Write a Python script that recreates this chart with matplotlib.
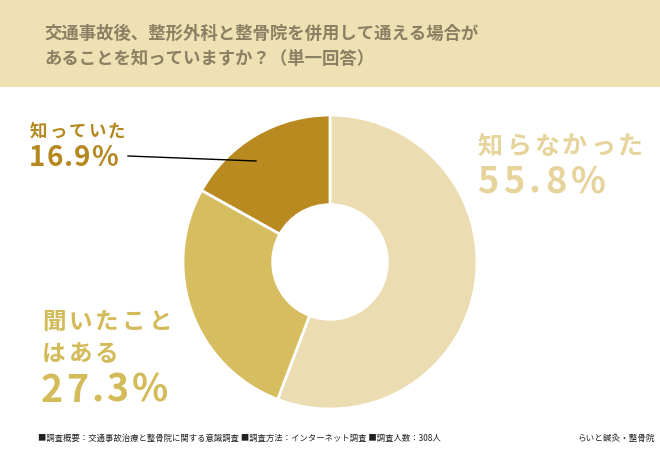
import matplotlib.pyplot as plt
from matplotlib.patches import Rectangle

plt.rcParams['font.family'] = ['Noto Sans CJK JP', 'DejaVu Sans']

labels = ["知らなかった", "聞いたこと", "はある", "知っていた"]
values = [55.8, 27.3, 16.9]
colors = ["#ecdcb1", "#d6bd60", "#b88a1f"]
text_colors = ["#e6d49c", "#d4bb5a", "#b4871f"]

title = "交通事故後、整形外科と整骨院を併用して通える場合が\nあることを知っていますか？（単一回答）"
footer = "■調査概要：交通事故治療と整骨院に関する意識調査 ■調査方法：インターネット調査 ■調査人数：308人"
credit = "らいと鍼灸・整骨院"

W, H = 660, 450
fig = plt.figure(figsize=(6.6, 4.5), dpi=100)
fig.patch.set_facecolor("white")
renderer = fig.canvas.get_renderer()


def spaced_text(x, y, s, gap, **kw):
    # draw text one char at a time so the letters can be spread out
    for ch in s:
        t = fig.text(x / W, 1 - y / H, ch, va="center", ha="left", **kw)
        x += t.get_window_extent(renderer).width + gap


# title banner
fig.patches.append(Rectangle((0, 1 - 87 / H), 1, 87 / H, transform=fig.transFigure,
                             facecolor="#efe1b4", edgecolor="none", zorder=0))
fig.text(44 / W, 1 - 46 / H, title, fontsize=12.5, fontweight="bold", color="#8b8063",
         va="center", ha="left", linespacing=1.5)

# donut
r = 147
cx, cy = 330, 262
ax = fig.add_axes([(cx - r) / W, 1 - (cy + r) / H, 2 * r / W, 2 * r / H])
ax.pie(values, colors=colors, startangle=90, counterclock=False,
       wedgeprops=dict(width=0.61, edgecolor="white", linewidth=2))
ax.set_xlim(-1, 1)
ax.set_ylim(-1, 1)
ax.set_aspect("equal")
ax.axis("off")

# labels
spaced_text(478, 147, labels[0], 3, fontsize=18, fontweight="bold", color=text_colors[0])
spaced_text(477, 182, f"{values[0]}%", 4.5, fontsize=26, fontweight="bold", color=text_colors[0])

spaced_text(42, 322, labels[1], 3, fontsize=17, fontweight="bold", color=text_colors[1])
spaced_text(42, 354, labels[2], 3, fontsize=17, fontweight="bold", color=text_colors[1])
spaced_text(41, 390, f"{values[1]}%", 3, fontsize=27, fontweight="bold", color=text_colors[1])

spaced_text(30, 132, labels[3], 2, fontsize=12.5, fontweight="bold", color=text_colors[2])
spaced_text(29, 158, f"{values[2]}%", 1, fontsize=20, fontweight="bold", color=text_colors[2])
fig.add_artist(plt.Line2D([128 / W, 256 / W], [1 - 156 / H, 1 - 161 / H],
                          color="black", linewidth=1))

# footer
fig.text(38 / W, 1 - 438 / H, footer, fontsize=6.0, color="#222222", va="center", ha="left")
fig.text(655 / W, 1 - 438 / H, credit, fontsize=6.2, color="#222222", va="center", ha="right")

fig.savefig("out.png", dpi=100)
